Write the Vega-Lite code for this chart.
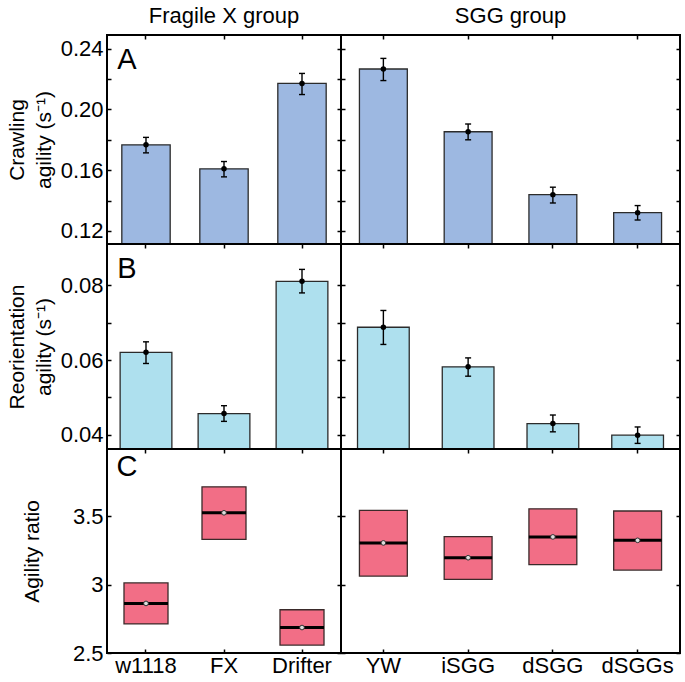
{
  "$schema": "https://vega.github.io/schema/vega-lite/v6.json",
  "padding": {"left": 5, "top": 4, "right": 5, "bottom": 2},
  "background": "white",
  "bounds": "flush",
  "spacing": 0,
  "datasets": {
    "main": [
      {"group": "FX", "strain": "w1118", "crawl": 0.1767, "crawl_lo": 0.1714, "crawl_hi": 0.1816, "re": 0.0621, "re_lo": 0.0591, "re_hi": 0.0649, "ratio_lo": 2.712, "ratio_med": 2.862, "ratio_hi": 3.012},
      {"group": "FX", "strain": "FX", "crawl": 0.1609, "crawl_lo": 0.1556, "crawl_hi": 0.1657, "re": 0.0457, "re_lo": 0.0436, "re_hi": 0.0478, "ratio_lo": 3.33, "ratio_med": 3.524, "ratio_hi": 3.714},
      {"group": "FX", "strain": "Drifter", "crawl": 0.2171, "crawl_lo": 0.2098, "crawl_hi": 0.2237, "re": 0.0811, "re_lo": 0.078, "re_hi": 0.0843, "ratio_lo": 2.558, "ratio_med": 2.686, "ratio_hi": 2.816},
      {"group": "SGG", "strain": "YW", "crawl": 0.2266, "crawl_lo": 0.219, "crawl_hi": 0.2336, "re": 0.0688, "re_lo": 0.0642, "re_hi": 0.0733, "ratio_lo": 3.062, "ratio_med": 3.304, "ratio_hi": 3.541},
      {"group": "SGG", "strain": "iSGG", "crawl": 0.1853, "crawl_lo": 0.18, "crawl_hi": 0.1904, "re": 0.0582, "re_lo": 0.0557, "re_hi": 0.0606, "ratio_lo": 3.038, "ratio_med": 3.196, "ratio_hi": 3.35},
      {"group": "SGG", "strain": "dSGG", "crawl": 0.1439, "crawl_lo": 0.1384, "crawl_hi": 0.1488, "re": 0.043, "re_lo": 0.0408, "re_hi": 0.0453, "ratio_lo": 3.145, "ratio_med": 3.348, "ratio_hi": 3.553},
      {"group": "SGG", "strain": "dSGGs", "crawl": 0.132, "crawl_lo": 0.1272, "crawl_hi": 0.1367, "re": 0.0399, "re_lo": 0.0377, "re_hi": 0.0421, "ratio_lo": 3.106, "ratio_med": 3.323, "ratio_hi": 3.537}
    ]
  },
  "config": {
    "font": "Liberation Sans",
    "view": {"stroke": "black", "strokeWidth": 2},
    "concat": {"spacing": 0},
    "tick": {"opacity": 1},
    "axis": {"domain": false, "grid": false, "tickSize": -4, "tickColor": "black", "tickWidth": 1.5, "labelFontSize": 22, "labelColor": "black", "titleFontSize": 21, "titleFontWeight": "normal", "titleColor": "black", "labelFont": "Liberation Sans", "titleFont": "Liberation Sans", "labelFlush": false, "labelOverlap": false},
    "title": {"fontSize": 22, "fontWeight": "normal", "font": "Liberation Sans", "offset": 6, "color": "black"}
  },
  "columns": 2,
  "concat": [
    {
      "width": 234, "height": 209,
      "title": "Fragile X group",
      "data": {"name": "main"},
      "transform": [{"filter": "datum.group === 'FX'"}],
      "layer": [
        {"mark": {"type": "bar", "width": {"band": 1}, "fill": "#9db8e1", "stroke": "#2b2b2b", "strokeWidth": 1.3, "clip": true},
         "encoding": {
           "x": {"field": "strain", "type": "nominal", "sort": null, "scale": {"paddingInner": 0.38}, "axis": {"orient": "bottom", "labels": false, "title": null}},
           "y": {"field": "crawl", "type": "quantitative", "scale": {"domain": [0.1114, 0.249], "nice": false, "zero": false},
                 "axis": {"orient": "left", "values": [0.12, 0.14, 0.16, 0.18, 0.2, 0.22, 0.24], "labelExpr": "(round(datum.value*100) % 4 == 0) ? format(datum.value, '.2f') : ''", "labelPadding": 8, "title": ["Crawling", "agility (s⁻¹)"], "titleLineHeight": 27, "titlePadding": 2, "minExtent": 51, "maxExtent": 51}},
           "y2": {"datum": 0}
         }},
        {"mark": {"type": "rule", "strokeWidth": 1.4, "color": "black"},
         "encoding": {
           "x": {"field": "strain", "type": "nominal", "sort": null, "axis": {"orient": "top", "labels": false, "title": null}},
           "y": {"field": "crawl_lo", "type": "quantitative", "axis": {"orient": "right", "labels": false, "title": null, "values": [0.12, 0.14, 0.16, 0.18, 0.2, 0.22, 0.24]}},
           "y2": {"field": "crawl_hi"}
         }},
        {"mark": {"type": "tick", "size": 6, "thickness": 1.4, "color": "black"},
         "encoding": {"x": {"field": "strain", "type": "nominal", "sort": null, "axis": null}, "y": {"field": "crawl_lo", "type": "quantitative", "axis": null}}},
        {"mark": {"type": "tick", "size": 6, "thickness": 1.4, "color": "black"},
         "encoding": {"x": {"field": "strain", "type": "nominal", "sort": null, "axis": null}, "y": {"field": "crawl_hi", "type": "quantitative", "axis": null}}},
        {"mark": {"type": "circle", "size": 30, "color": "black", "opacity": 1},
         "encoding": {"x": {"field": "strain", "type": "nominal", "sort": null, "axis": null}, "y": {"field": "crawl", "type": "quantitative", "axis": null}}},
        {"transform": [{"filter": "datum.strain === 'w1118'"}],
         "mark": {"type": "text", "fontSize": 29, "dx": -19, "align": "center", "baseline": "middle", "color": "black"},
         "encoding": {"x": {"field": "strain", "type": "nominal", "sort": null, "axis": null}, "y": {"datum": 0.2327, "type": "quantitative", "axis": null}, "text": {"value": "A"}}}
      ],
      "resolve": {"axis": {"x": "independent", "y": "independent"}}
    },
    {
      "width": 339, "height": 209,
      "title": "SGG group",
      "data": {"name": "main"},
      "transform": [{"filter": "datum.group === 'SGG'"}],
      "layer": [
        {"mark": {"type": "bar", "width": {"band": 1}, "fill": "#9db8e1", "stroke": "#2b2b2b", "strokeWidth": 1.3, "clip": true},
         "encoding": {
           "x": {"field": "strain", "type": "nominal", "sort": null, "scale": {"paddingInner": 0.435}, "axis": {"orient": "bottom", "labels": false, "title": null}},
           "y": {"field": "crawl", "type": "quantitative", "scale": {"domain": [0.1114, 0.249], "nice": false, "zero": false},
                 "axis": {"orient": "left", "values": [0.12, 0.14, 0.16, 0.18, 0.2, 0.22, 0.24], "labels": false, "title": null}},
           "y2": {"datum": 0}
         }},
        {"mark": {"type": "rule", "strokeWidth": 1.4, "color": "black"},
         "encoding": {
           "x": {"field": "strain", "type": "nominal", "sort": null, "axis": {"orient": "top", "labels": false, "title": null}},
           "y": {"field": "crawl_lo", "type": "quantitative", "axis": {"orient": "right", "labels": false, "title": null, "values": [0.12, 0.14, 0.16, 0.18, 0.2, 0.22, 0.24]}},
           "y2": {"field": "crawl_hi"}
         }},
        {"mark": {"type": "tick", "size": 6, "thickness": 1.4, "color": "black"},
         "encoding": {"x": {"field": "strain", "type": "nominal", "sort": null, "axis": null}, "y": {"field": "crawl_lo", "type": "quantitative", "axis": null}}},
        {"mark": {"type": "tick", "size": 6, "thickness": 1.4, "color": "black"},
         "encoding": {"x": {"field": "strain", "type": "nominal", "sort": null, "axis": null}, "y": {"field": "crawl_hi", "type": "quantitative", "axis": null}}},
        {"mark": {"type": "circle", "size": 30, "color": "black", "opacity": 1},
         "encoding": {"x": {"field": "strain", "type": "nominal", "sort": null, "axis": null}, "y": {"field": "crawl", "type": "quantitative", "axis": null}}}
      ],
      "resolve": {"axis": {"x": "independent", "y": "independent"}}
    },
    {
      "width": 234, "height": 205,
      "data": {"name": "main"},
      "transform": [{"filter": "datum.group === 'FX'"}],
      "layer": [
        {"mark": {"type": "bar", "width": {"band": 1.07}, "fill": "#aee0ee", "stroke": "#2b2b2b", "strokeWidth": 1.3, "clip": true},
         "encoding": {
           "x": {"field": "strain", "type": "nominal", "sort": null, "scale": {"paddingInner": 0.38}, "axis": {"orient": "bottom", "labels": false, "title": null}},
           "y": {"field": "re", "type": "quantitative", "scale": {"domain": [0.0362, 0.0911], "nice": false, "zero": false},
                 "axis": {"orient": "left", "values": [0.04, 0.05, 0.06, 0.07, 0.08], "labelExpr": "(round(datum.value*100) % 2 == 0) ? format(datum.value, '.2f') : ''", "labelPadding": 8, "title": ["Reorientation", "agility (s⁻¹)"], "titleLineHeight": 27, "titlePadding": 2, "minExtent": 51, "maxExtent": 51}},
           "y2": {"datum": 0}
         }},
        {"mark": {"type": "rule", "strokeWidth": 1.4, "color": "black"},
         "encoding": {
           "x": {"field": "strain", "type": "nominal", "sort": null, "axis": {"orient": "top", "labels": false, "title": null}},
           "y": {"field": "re_lo", "type": "quantitative", "axis": {"orient": "right", "labels": false, "title": null, "values": [0.04, 0.05, 0.06, 0.07, 0.08]}},
           "y2": {"field": "re_hi"}
         }},
        {"mark": {"type": "tick", "size": 6, "thickness": 1.4, "color": "black"},
         "encoding": {"x": {"field": "strain", "type": "nominal", "sort": null, "axis": null}, "y": {"field": "re_lo", "type": "quantitative", "axis": null}}},
        {"mark": {"type": "tick", "size": 6, "thickness": 1.4, "color": "black"},
         "encoding": {"x": {"field": "strain", "type": "nominal", "sort": null, "axis": null}, "y": {"field": "re_hi", "type": "quantitative", "axis": null}}},
        {"mark": {"type": "circle", "size": 30, "color": "black", "opacity": 1},
         "encoding": {"x": {"field": "strain", "type": "nominal", "sort": null, "axis": null}, "y": {"field": "re", "type": "quantitative", "axis": null}}},
        {"transform": [{"filter": "datum.strain === 'w1118'"}],
         "mark": {"type": "text", "fontSize": 29, "dx": -19, "align": "center", "baseline": "middle", "color": "black"},
         "encoding": {"x": {"field": "strain", "type": "nominal", "sort": null, "axis": null}, "y": {"datum": 0.0844, "type": "quantitative", "axis": null}, "text": {"value": "B"}}}
      ],
      "resolve": {"axis": {"x": "independent", "y": "independent"}}
    },
    {
      "width": 339, "height": 205,
      "data": {"name": "main"},
      "transform": [{"filter": "datum.group === 'SGG'"}],
      "layer": [
        {"mark": {"type": "bar", "width": {"band": 1.08}, "fill": "#aee0ee", "stroke": "#2b2b2b", "strokeWidth": 1.3, "clip": true},
         "encoding": {
           "x": {"field": "strain", "type": "nominal", "sort": null, "scale": {"paddingInner": 0.435}, "axis": {"orient": "bottom", "labels": false, "title": null}},
           "y": {"field": "re", "type": "quantitative", "scale": {"domain": [0.0362, 0.0911], "nice": false, "zero": false},
                 "axis": {"orient": "left", "values": [0.04, 0.05, 0.06, 0.07, 0.08], "labels": false, "title": null}},
           "y2": {"datum": 0}
         }},
        {"mark": {"type": "rule", "strokeWidth": 1.4, "color": "black"},
         "encoding": {
           "x": {"field": "strain", "type": "nominal", "sort": null, "axis": {"orient": "top", "labels": false, "title": null}},
           "y": {"field": "re_lo", "type": "quantitative", "axis": {"orient": "right", "labels": false, "title": null, "values": [0.04, 0.05, 0.06, 0.07, 0.08]}},
           "y2": {"field": "re_hi"}
         }},
        {"mark": {"type": "tick", "size": 6, "thickness": 1.4, "color": "black"},
         "encoding": {"x": {"field": "strain", "type": "nominal", "sort": null, "axis": null}, "y": {"field": "re_lo", "type": "quantitative", "axis": null}}},
        {"mark": {"type": "tick", "size": 6, "thickness": 1.4, "color": "black"},
         "encoding": {"x": {"field": "strain", "type": "nominal", "sort": null, "axis": null}, "y": {"field": "re_hi", "type": "quantitative", "axis": null}}},
        {"mark": {"type": "circle", "size": 30, "color": "black", "opacity": 1},
         "encoding": {"x": {"field": "strain", "type": "nominal", "sort": null, "axis": null}, "y": {"field": "re", "type": "quantitative", "axis": null}}}
      ],
      "resolve": {"axis": {"x": "independent", "y": "independent"}}
    },
    {
      "width": 234, "height": 204,
      "data": {"name": "main"},
      "transform": [{"filter": "datum.group === 'FX'"}],
      "layer": [
        {"mark": {"type": "bar", "width": {"band": 0.91}, "fill": "#f26e86", "stroke": "#3a2a2a", "strokeWidth": 1.3},
         "encoding": {
           "x": {"field": "strain", "type": "nominal", "sort": null, "scale": {"paddingInner": 0.38}, "axis": {"orient": "bottom", "labels": true, "labelPadding": 6, "labelAngle": 0, "title": null}},
           "y": {"field": "ratio_lo", "type": "quantitative", "scale": {"domain": [2.5, 3.99], "nice": false, "zero": false},
                 "axis": {"orient": "left", "values": [2.5, 3, 3.5], "labelExpr": "'' + datum.value", "labelPadding": 8, "title": "Agility ratio", "titlePadding": 14, "minExtent": 51, "maxExtent": 51}},
           "y2": {"field": "ratio_hi"}
         }},
        {"mark": {"type": "tick", "size": 44, "thickness": 3, "color": "black"},
         "encoding": {
           "x": {"field": "strain", "type": "nominal", "sort": null, "axis": {"orient": "top", "labels": false, "title": null}},
           "y": {"field": "ratio_med", "type": "quantitative", "axis": {"orient": "right", "labels": false, "title": null, "values": [2.5, 3, 3.5]}}
         }},
        {"mark": {"type": "circle", "size": 22, "fill": "#dddddd", "stroke": "#333333", "strokeWidth": 1, "opacity": 1},
         "encoding": {"x": {"field": "strain", "type": "nominal", "sort": null, "axis": null}, "y": {"field": "ratio_med", "type": "quantitative", "axis": null}}},
        {"transform": [{"filter": "datum.strain === 'w1118'"}],
         "mark": {"type": "text", "fontSize": 29, "dx": -19, "align": "center", "baseline": "middle", "color": "black"},
         "encoding": {"x": {"field": "strain", "type": "nominal", "sort": null, "axis": null}, "y": {"datum": 3.857, "type": "quantitative", "axis": null}, "text": {"value": "C"}}}
      ],
      "resolve": {"axis": {"x": "independent", "y": "independent"}}
    },
    {
      "width": 339, "height": 204,
      "data": {"name": "main"},
      "transform": [{"filter": "datum.group === 'SGG'"}],
      "layer": [
        {"mark": {"type": "bar", "width": {"band": 1}, "fill": "#f26e86", "stroke": "#3a2a2a", "strokeWidth": 1.3},
         "encoding": {
           "x": {"field": "strain", "type": "nominal", "sort": null, "scale": {"paddingInner": 0.435}, "axis": {"orient": "bottom", "labels": true, "labelPadding": 6, "labelAngle": 0, "title": null}},
           "y": {"field": "ratio_lo", "type": "quantitative", "scale": {"domain": [2.5, 3.99], "nice": false, "zero": false},
                 "axis": {"orient": "left", "values": [2.5, 3, 3.5], "labels": false, "title": null}},
           "y2": {"field": "ratio_hi"}
         }},
        {"mark": {"type": "tick", "size": 48, "thickness": 3, "color": "black"},
         "encoding": {
           "x": {"field": "strain", "type": "nominal", "sort": null, "axis": {"orient": "top", "labels": false, "title": null}},
           "y": {"field": "ratio_med", "type": "quantitative", "axis": {"orient": "right", "labels": false, "title": null, "values": [2.5, 3, 3.5]}}
         }},
        {"mark": {"type": "circle", "size": 22, "fill": "#dddddd", "stroke": "#333333", "strokeWidth": 1, "opacity": 1},
         "encoding": {"x": {"field": "strain", "type": "nominal", "sort": null, "axis": null}, "y": {"field": "ratio_med", "type": "quantitative", "axis": null}}}
      ],
      "resolve": {"axis": {"x": "independent", "y": "independent"}}
    }
  ]
}
